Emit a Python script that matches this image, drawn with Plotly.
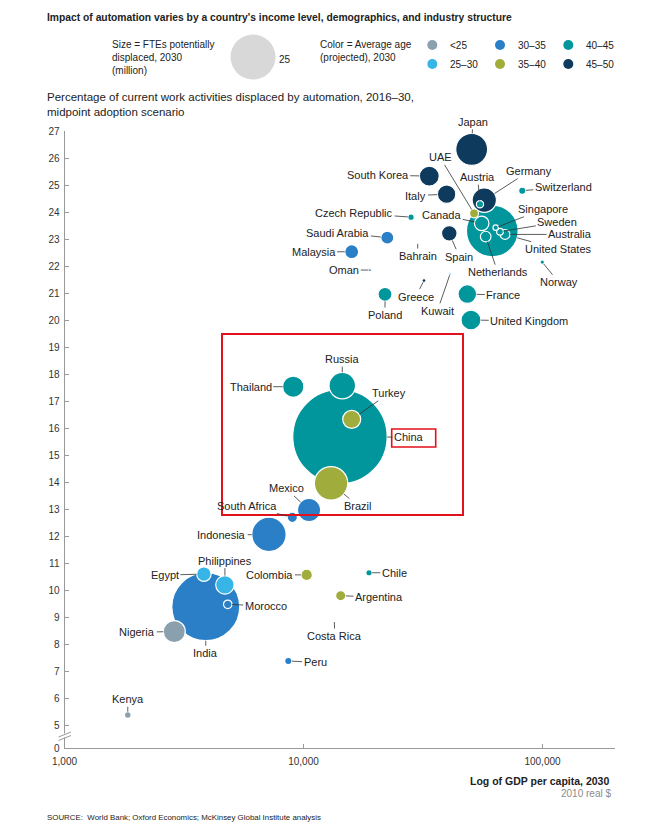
import numpy as np
import plotly.graph_objects as go

# ---------------- data ----------------
countries = ["China", "India", "United States", "Indonesia", "Japan", "Brazil", "Russia",
             "Germany", "Mexico", "Nigeria", "Thailand", "South Korea", "United Kingdom",
             "France", "Italy", "Philippines", "Turkey", "Spain", "Egypt", "Canada", "Poland",
             "Malaysia", "Saudi Arabia", "Colombia", "Netherlands", "Argentina", "South Africa",
             "Australia", "UAE", "Morocco", "Austria", "Switzerland", "Peru", "Sweden", "Kenya",
             "Chile", "Czech Republic", "Singapore", "Norway", "Greece", "Oman", "Kuwait",
             "Bahrain", "Costa Rica"]

# GDP per capita, 2030 (2010 real $)
gdp = [14210, 3900, 61650, 7170, 50550, 13040, 14530,
       57070, 10550, 2880, 9060, 33600, 50200,
       48460, 39700, 4690, 15910, 40740, 3830, 55660, 21930,
       15910, 22420, 10310, 57850, 14310, 8980,
       69700, 51700, 4820, 54750, 82300, 8640, 66400, 1840,
       18800, 28180, 63700, 99800, 31930, 18980, 41020,
       30050, 13450]

# % of current work activities displaced, 2016-30
pct = [15.68, 9.38, 23.30, 12.06, 26.32, 13.95, 17.57,
       24.44, 12.96, 8.46, 17.53, 25.33, 20.00,
       20.96, 24.66, 10.19, 16.32, 23.21, 10.59, 23.58, 20.95,
       22.53, 23.05, 10.56, 23.09, 9.79, 12.69,
       23.17, 23.95, 9.47, 24.29, 24.79, 7.37, 23.27, 5.37,
       10.64, 23.81, 23.42, 22.14, 21.46, 21.85, 21.70,
       22.84, 8.83]

# FTEs potentially displaced, 2030 (million)
fte = [110, 57, 33, 14.6, 12.6, 13.8, 8.7,
       7.3, 6.6, 6.0, 5.6, 4.9, 4.9,
       4.3, 4.2, 4.2, 4.0, 3.0, 2.6, 2.6, 2.4,
       2.4, 2.1, 1.6, 1.4, 1.3, 1.3,
       1.2, 1.0, 0.9, 0.65, 0.65, 0.65, 0.55, 0.55,
       0.5, 0.5, 0.36, 0.24, 0.2, 0.11, 0.08,
       0.012, 0.012]

# Average age (projected), 2030
age = ["40–45", "30–35", "40–45", "30–35", "45–50", "35–40", "40–45",
       "45–50", "30–35", "<25", "40–45", "45–50", "40–45",
       "40–45", "45–50", "25–30", "35–40", "45–50", "25–30", "40–45", "40–45",
       "30–35", "30–35", "35–40", "40–45", "35–40", "30–35",
       "40–45", "35–40", "30–35", "40–45", "40–45", "30–35", "40–45", "<25",
       "40–45", "40–45", "40–45", "40–45", "45–50", "30–35", "30–35",
       "30–35", "35–40"]

age_groups = ["<25", "25–30", "30–35", "35–40", "40–45", "45–50"]
legend_size_value = 25
x_ticks = [1000, 10000, 100000]
x_tick_text = ["1,000", "10,000", "100,000"]
y_ticks = list(range(5, 28))

# ---------------- styles / positions ----------------
age_colors = {"<25": "#8aa0ae", "25–30": "#36b5e6", "30–35": "#2a7fc6",
              "35–40": "#a0ad3c", "40–45": "#00969b", "45–50": "#0e3a5e"}

# label offsets (pixels from bubble centre to label centre)
label_dx = [69, 0, 66, -47.3, 1, 27.3, 0,
            45, -23, -37, -42.6, -51.6, 58.3,
            36, -30.7, 0, 37.3, 10, -39, -40, 0,
            -38.2, -49.5, -36.7, 12, 38.3, -45.6,
            65, -34, 38, -2.3, 41, 26.7, 57.3, 0,
            25.3, -57, 47.6, 16.4, -8.3, -25.7, -12.6,
            0, 0.7]
label_dy = [0.6, 46.6, 18.3, 0.7, -27.6, 22.7, -26.4,
            -29, -21.7, 0.6, 0, -1, 1,
            1, 1.4, -24.3, -26, 23.4, 1, -8.3, 20.7,
            0.3, -5, 0, 35.6, 1.6, -11.3,
            0, -56, 1.7, -27, -3.4, 1.3, -9.4, -15.7,
            0, -4, -18.4, 20, 16, 0, 36.7,
            12.7, 14.5]

# All layout constants below are screen pixels; the page places the figure at (8, 8).
W, H = 648, 834
OFF = 8                        # page body margin
PB = 748                       # screen row of the x axis (paper bottom)
X_LEFT, X_RIGHT = 64.5, 615    # screen columns of the plot area
Y_TOP = 131                    # screen row of the 27 tick
LEGEND_R = 22.5                # pixel radius of the 25 million legend bubble
SIZEREF = legend_size_value / (2 * LEGEND_R ** 2)
FONT = "Liberation Sans, Arial, sans-serif"
TXT = "#222222"
AX = "#9a9a9a"

DECADE = 239.0
PX_PER_UNIT = 27.0
x_range = [3, 3 + (X_RIGHT - X_LEFT) / DECADE]
y_range = [27 - (PB - Y_TOP) / PX_PER_UNIT, 27]
PAPER_H = PB - OFF


def pxx(x):
    return (x - OFF) / W


def pxy(y):
    return (PB - y) / PAPER_H


# ---------------- figure ----------------
order = np.argsort(fte)[::-1]
fig = go.Figure()
fig.add_trace(go.Scatter(
    x=[gdp[i] for i in order], y=[pct[i] for i in order],
    mode="markers", cliponaxis=False,
    text=[countries[i] for i in order], hoverinfo="text+x+y",
    marker=dict(size=[fte[i] for i in order], sizemode="area", sizeref=SIZEREF, sizemin=0,
                color=[age_colors[age[i]] for i in order],
                line=dict(color="white", width=1.2), opacity=1),
))

# legend on an overlay axis measured in screen pixels
fig.add_trace(go.Scatter(
    x=[253], y=[57], xaxis="x2", yaxis="y2", mode="markers", cliponaxis=False,
    hoverinfo="skip",
    marker=dict(size=[legend_size_value], sizemode="area", sizeref=SIZEREF,
                color="#c8c8c8", line=dict(width=0)),
))
leg_x = [432.3, 432.3, 500, 500, 568.3, 568.3]
leg_y = [45, 64, 45, 64, 45, 64]
fig.add_trace(go.Scatter(
    x=leg_x, y=leg_y, xaxis="x2", yaxis="y2", mode="markers", cliponaxis=False,
    hoverinfo="skip",
    marker=dict(size=10, color=[age_colors[g] for g in age_groups], line=dict(width=0)),
))

annotations = []
for i, name in enumerate(countries):
    r = np.sqrt(fte[i] / (2 * SIZEREF))
    annotations.append(dict(
        x=np.log10(gdp[i]), y=pct[i], xref="x", yref="y", text=name,
        showarrow=True, arrowhead=0, arrowwidth=0.8, arrowcolor="#333333",
        ax=label_dx[i], ay=label_dy[i], standoff=r, borderpad=1,
        font=dict(family=FONT, size=11, color=TXT)))

for g, lx, ly in zip(age_groups, leg_x, leg_y):
    annotations.append(dict(x=pxx(lx + 15.5), y=pxy(ly), xref="paper", yref="paper",
                            text=g, showarrow=False, xanchor="left", yanchor="middle",
                            font=dict(family=FONT, size=10, color=TXT)))


def paper_text(txt, x, y, size=10, color=TXT, xanchor="left", align="left"):
    annotations.append(dict(x=pxx(x), y=pxy(y), xref="paper", yref="paper", text=txt,
                            showarrow=False, xanchor=xanchor, yanchor="middle", align=align,
                            font=dict(family=FONT, size=size, color=color)))


paper_text("<b>Impact of automation varies by a country's income level, demographics, "
           "and industry structure</b>", 45, 18, size=10.3)
paper_text("Size = FTEs potentially<br>displaced, 2030<br>(million)", 110, 57.5, size=10)
paper_text(str(legend_size_value), 277, 60, size=10)
paper_text("Color = Average age<br>(projected), 2030", 318, 51, size=10)
paper_text("Percentage of current work activities displaced by automation, 2016–30,"
           "<br>midpoint adoption scenario", 45, 104.5, size=11.5)
paper_text("<b>Log of GDP per capita, 2030</b>", 611, 781, size=10.5, xanchor="right",
           align="right")
paper_text("2010 real $", 613, 793, size=10, color="#8a8a8a", xanchor="right", align="right")
paper_text("SOURCE:\u00a0 World Bank; Oxford Economics; McKinsey Global Institute analysis",
           45, 817, size=7.9)

shapes = [
    # highlight boxes
    dict(type="rect", xref="paper", yref="paper", x0=pxx(222), x1=pxx(463),
         y0=pxy(515), y1=pxy(334), line=dict(color="#e3111b", width=2)),
    dict(type="rect", xref="paper", yref="paper", x0=pxx(391.7), x1=pxx(435.7),
         y0=pxy(447), y1=pxy(429), line=dict(color="#e3111b", width=1.6)),
    # axis break
    dict(type="line", xref="paper", yref="paper", x0=pxx(X_LEFT), x1=pxx(X_LEFT),
         y0=pxy(733.5), y1=pxy(737.5), line=dict(color="white", width=3)),
    dict(type="line", xref="paper", yref="paper", x0=pxx(58.5), x1=pxx(71),
         y0=pxy(737), y1=pxy(732), line=dict(color=AX, width=1)),
    dict(type="line", xref="paper", yref="paper", x0=pxx(58.5), x1=pxx(71),
         y0=pxy(740.5), y1=pxy(735.5), line=dict(color=AX, width=1)),
]

fig.update_layout(
    width=W, height=H, margin=dict(l=0, r=0, t=0, b=H - PAPER_H, autoexpand=False),
    paper_bgcolor="white", plot_bgcolor="rgba(0,0,0,0)", showlegend=False,
    font=dict(family=FONT, color=TXT),
    xaxis=dict(type="log", domain=[pxx(X_LEFT), pxx(X_RIGHT)], range=x_range,
               tickvals=x_ticks, ticktext=x_tick_text, ticks="inside", ticklen=4,
               tickcolor=AX, showline=True, linecolor=AX, linewidth=1, showgrid=False,
               zeroline=False, tickfont=dict(size=10, color="#333333"),
               ticklabelstandoff=4, anchor="y", automargin=False),
    yaxis=dict(domain=[0, pxy(Y_TOP)], range=y_range,
               tickvals=[y_range[0]] + y_ticks, ticktext=["0"] + [str(v) for v in y_ticks],
               ticks="inside", ticklen=4, tickcolor=AX, showline=True, linecolor=AX,
               linewidth=1, showgrid=False, zeroline=False,
               tickfont=dict(size=10, color="#333333"), ticklabelstandoff=2, anchor="x",
               automargin=False),
    xaxis2=dict(domain=[0, 1], range=[OFF, OFF + W], visible=False, anchor="y2",
                fixedrange=True, automargin=False),
    yaxis2=dict(domain=[0, 1], range=[PB, OFF], visible=False, anchor="x2",
                fixedrange=True, automargin=False),
    annotations=annotations, shapes=shapes,
)

fig.write_html("out.html")
